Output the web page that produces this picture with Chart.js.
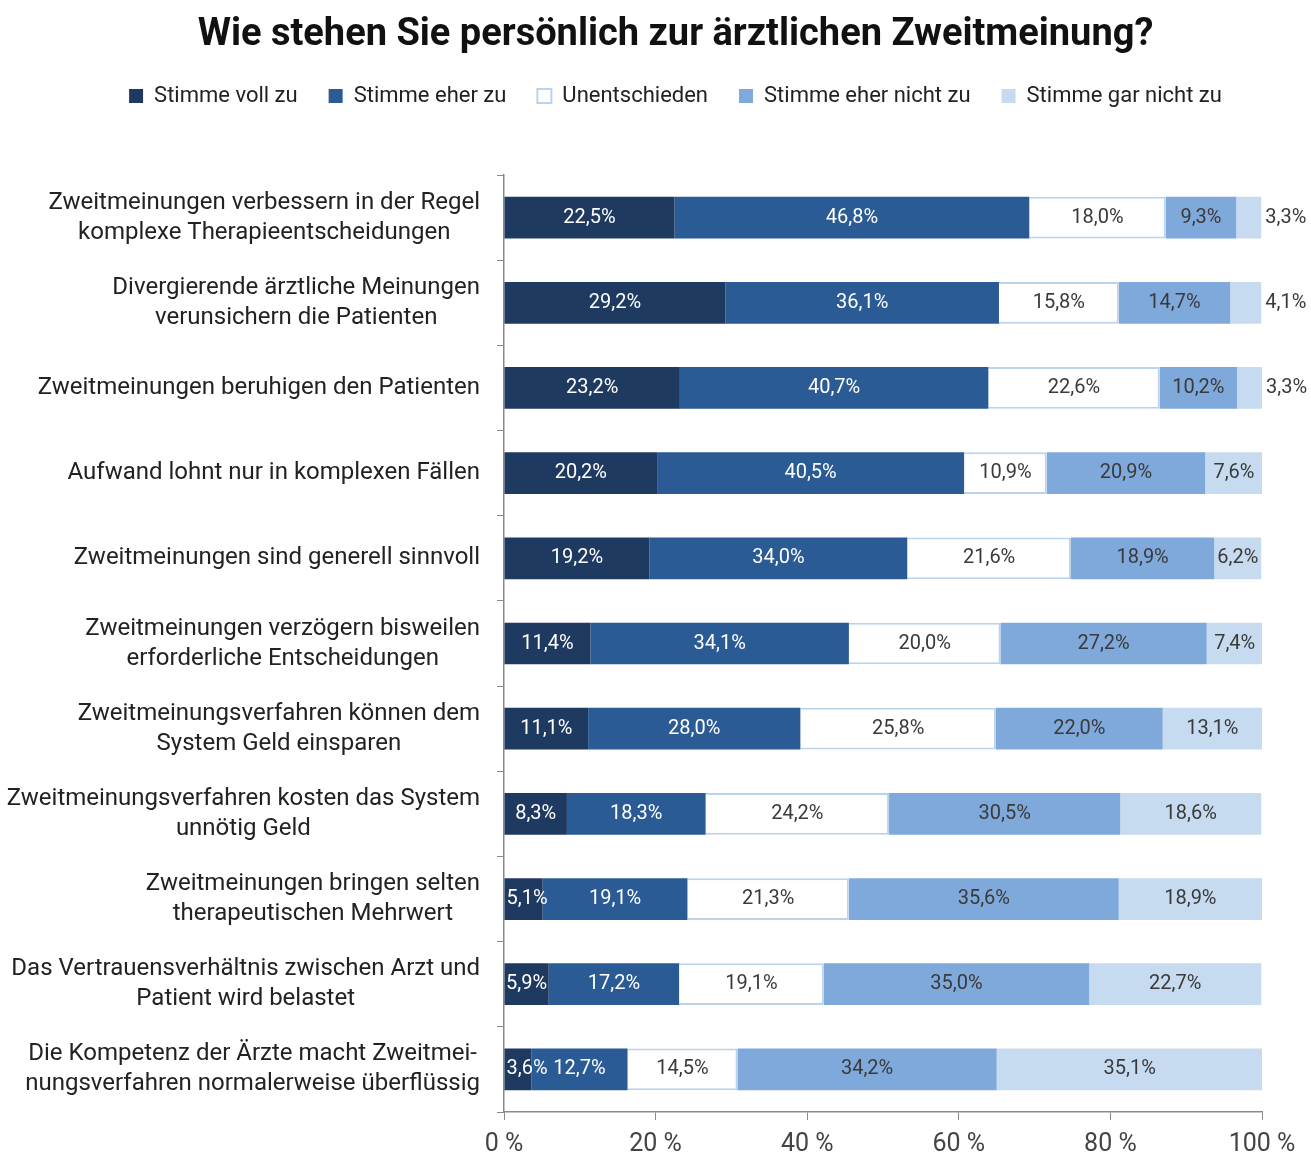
<!DOCTYPE html>
<html lang="de">
<head>
<meta charset="utf-8">
<title>Ärztliche Zweitmeinung</title>
<script src="https://cdn.jsdelivr.net/npm/chart.js@4.4.1/dist/chart.umd.min.js"></script>
<style>
  html, body { margin: 0; padding: 0; background: #fff; }
  #wrap { width: 1311px; height: 1156px; }
</style>
</head>
<body>
<div id="wrap"><canvas id="opinionChart"></canvas></div>
<script>
const FONT = "Roboto, 'Open Sans', sans-serif";

// Statements (y categories), split into lines as in the original
const statements = [
  ["Zweitmeinungen verbessern in der Regel", "komplexe Therapieentscheidungen"],
  ["Divergierende ärztliche Meinungen", "verunsichern die Patienten"],
  "Zweitmeinungen beruhigen den Patienten",
  "Aufwand lohnt nur in komplexen Fällen",
  "Zweitmeinungen sind generell sinnvoll",
  ["Zweitmeinungen verzögern bisweilen", "erforderliche Entscheidungen"],
  ["Zweitmeinungsverfahren können dem", "System Geld einsparen"],
  ["Zweitmeinungsverfahren kosten das System", "unnötig Geld"],
  ["Zweitmeinungen bringen selten", "therapeutischen Mehrwert"],
  ["Das Vertrauensverhältnis zwischen Arzt und", "Patient wird belastet"],
  ["Die Kompetenz der Ärzte macht Zweitmei-", "nungsverfahren normalerweise überflüssig"]
];

// Answer shares in percent
const stimmeVollZu      = [22.5, 29.2, 23.2, 20.2, 19.2, 11.4, 11.1,  8.3,  5.1,  5.9,  3.6];
const stimmeEherZu      = [46.8, 36.1, 40.7, 40.5, 34.0, 34.1, 28.0, 18.3, 19.1, 17.2, 12.7];
const unentschieden     = [18.0, 15.8, 22.6, 10.9, 21.6, 20.0, 25.8, 24.2, 21.3, 19.1, 14.5];
const stimmeEherNicht   = [ 9.3, 14.7, 10.2, 20.9, 18.9, 27.2, 22.0, 30.5, 35.6, 35.0, 34.2];
const stimmeGarNicht    = [ 3.3,  4.1,  3.3,  7.6,  6.2,  7.4, 13.1, 18.6, 18.9, 22.7, 35.1];

const xTicks = [0, 20, 40, 60, 80, 100];

function formatPct(v) {
  return v.toFixed(1).replace(".", ",") + "%";
}

// values written on / next to the bar segments
const valueLabels = {
  id: "valueLabels",
  afterDatasetsDraw(chart) {
    const ctx = chart.ctx;
    ctx.save();
    ctx.font = "20px " + FONT;
    ctx.textBaseline = "middle";
    chart.data.datasets.forEach((ds, i) => {
      const meta = chart.getDatasetMeta(i);
      meta.data.forEach((bar, j) => {
        const text = formatPct(ds.data[j]);
        const left = Math.min(bar.x, bar.base);
        const right = Math.max(bar.x, bar.base);
        const w = right - left;
        const tw = ctx.measureText(text).width;
        ctx.fillStyle = i < 2 ? "#ffffff" : "#3a3a3a";
        if (i === chart.data.datasets.length - 1 && w < 36) {
          // tiny last segment: label sits right of the bar
          ctx.fillStyle = "#3a3a3a";
          ctx.textAlign = "left";
          ctx.fillText(text, right + 4, bar.y);
        } else if (tw > w) {
          ctx.textAlign = "left";
          ctx.fillText(text, left + 2, bar.y);
        } else {
          ctx.textAlign = "center";
          ctx.fillText(text, (left + right) / 2, bar.y);
        }
      });
    });
    ctx.restore();
  }
};

// statement labels: block right aligned, lines centred within block
const statementLabels = {
  id: "statementLabels",
  afterDraw(chart) {
    const ctx = chart.ctx;
    const yScale = chart.scales.y;
    const rightEdge = chart.chartArea.left - 24;
    ctx.save();
    ctx.font = "24px " + FONT;
    ctx.fillStyle = "#222222";
    ctx.textAlign = "center";
    ctx.textBaseline = "middle";
    chart.data.labels.forEach((label, i) => {
      const lines = Array.isArray(label) ? label : [label];
      const blockW = Math.max(...lines.map(l => ctx.measureText(l).width));
      const cx = rightEdge - blockW / 2;
      const yc = yScale.getPixelForValue(i);
      lines.forEach((line, k) => {
        ctx.fillText(line, cx, yc + (k - (lines.length - 1) / 2) * 30);
      });
    });
    ctx.restore();
  }
};

// extra space between legend and plot
const legendGap = {
  id: "legendGap",
  beforeInit(chart) {
    const origFit = chart.legend.fit;
    chart.legend.fit = function () {
      origFit.call(this);
      this.height += 58;
    };
  }
};

new Chart(document.getElementById("opinionChart"), {
  type: "bar",
  data: {
    labels: statements,
    datasets: [
      { label: "Stimme voll zu", data: stimmeVollZu, backgroundColor: "#1f3a60", borderWidth: 0 },
      { label: "Stimme eher zu", data: stimmeEherZu, backgroundColor: "#2a5b94", borderWidth: 0 },
      { label: "Unentschieden", data: unentschieden, backgroundColor: "#ffffff", borderColor: "#bcd3ec", borderWidth: 2 },
      { label: "Stimme eher nicht zu", data: stimmeEherNicht, backgroundColor: "#80a9db", borderWidth: 0 },
      { label: "Stimme gar nicht zu", data: stimmeGarNicht, backgroundColor: "#c6dbef", borderWidth: 0 }
    ]
  },
  options: {
    indexAxis: "y",
    responsive: true,
    maintainAspectRatio: false,
    animation: false,
    layout: { padding: { left: 89, right: 49, top: 0, bottom: 0 } },
    datasets: {
      bar: { categoryPercentage: 1, barPercentage: 0.49 }
    },
    scales: {
      x: {
        stacked: true,
        min: 0,
        max: 100,
        afterBuildTicks(scale) {
          scale.ticks = xTicks.map(v => ({ value: v }));
        },
        afterFit(scale) { scale.height = 44; },
        ticks: {
          callback: v => v + " %",
          color: "#444",
          font: { size: 25, family: FONT },
          padding: 10
        },
        grid: { drawOnChartArea: false, drawTicks: true, tickLength: 8, color: "#8a8a8a" },
        border: { color: "#8a8a8a", width: 1.5 }
      },
      y: {
        stacked: true,
        ticks: { display: false },
        grid: { drawOnChartArea: false, drawTicks: true, tickLength: 7, color: "#8a8a8a", offset: true },
        border: { color: "#8a8a8a", width: 1.5 },
        afterFit(scale) { scale.width = 415; }
      }
    },
    plugins: {
      title: {
        display: true,
        text: "Wie stehen Sie persönlich zur ärztlichen Zweitmeinung?",
        color: "#111",
        font: { size: 38, weight: "bold", family: FONT, lineHeight: 1 },
        padding: { top: 16, bottom: 0 }
      },
      legend: {
        position: "top",
        labels: {
          boxWidth: 14,
          boxHeight: 14,
          padding: 31,
          color: "#222",
          font: { size: 22, family: FONT }
        }
      },
      tooltip: { enabled: false }
    }
  },
  plugins: [legendGap, valueLabels, statementLabels]
});
</script>
</body>
</html>
